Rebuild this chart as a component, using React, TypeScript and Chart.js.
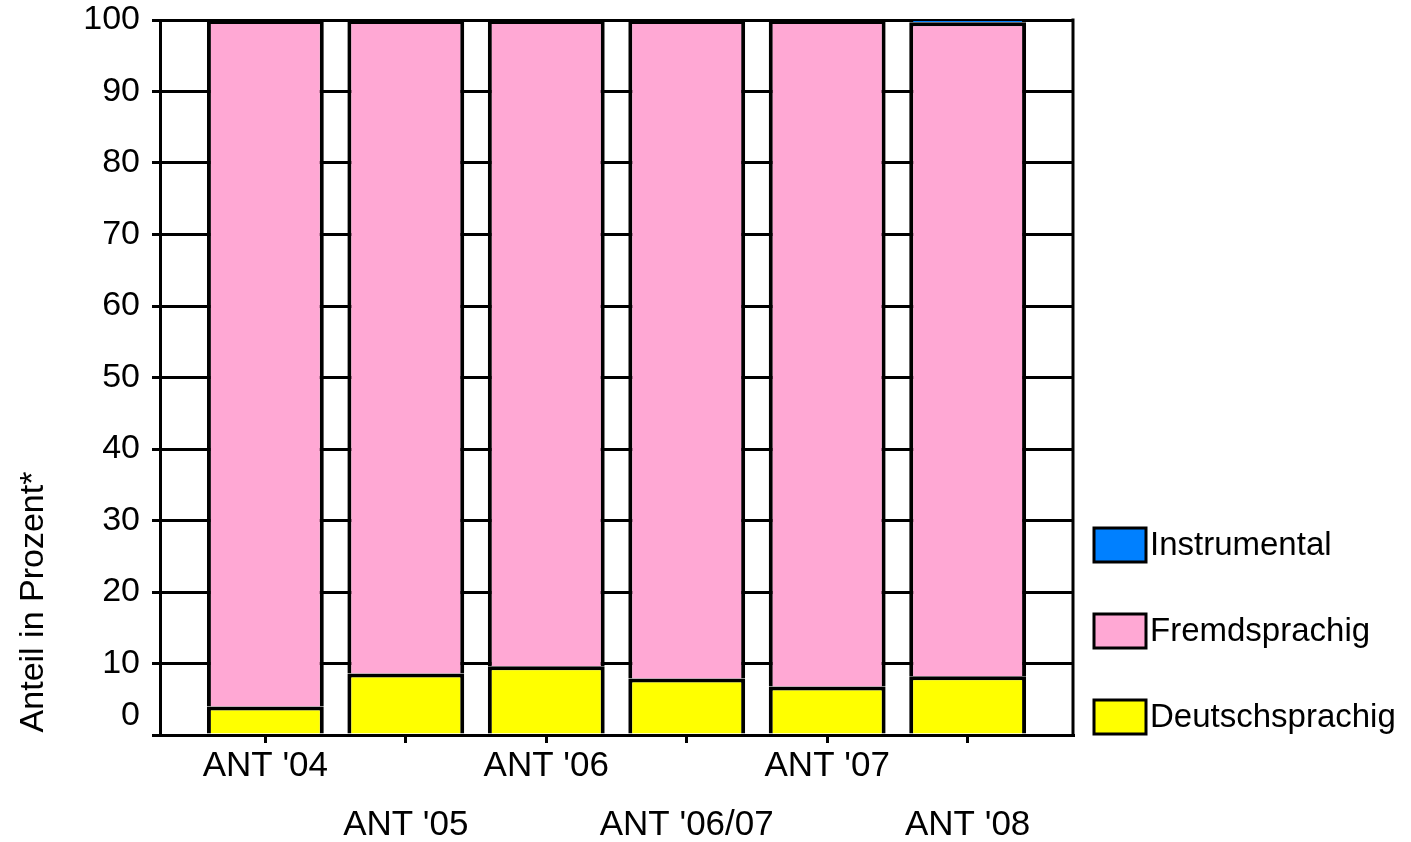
import React, { useEffect, useRef } from 'react';
import { Chart, registerables } from 'chart.js';

Chart.register(...registerables);

const categories = ["ANT '04", "ANT '05", "ANT '06", "ANT '06/07", "ANT '07", "ANT '08"];
const deutschsprachig = [4.0, 8.6, 9.6, 7.9, 6.8, 8.2];
const fremdsprachig = [96.0, 91.4, 90.4, 92.1, 93.2, 91.5];
const instrumental = [0, 0, 0, 0, 0, 0.3];
const yTickValues = [0, 10, 20, 30, 40, 50, 60, 70, 80, 90, 100];
const seriesNames = ['Deutschsprachig', 'Fremdsprachig', 'Instrumental'];
const seriesColors = ['#FFFF00', '#FFA8D4', '#0080FF'];
const yTitle = 'Anteil in Prozent*';

const FONT = '"Liberation Sans", Arial, Helvetica, sans-serif';

const decorPlugin = {
  id: 'decor',
  afterDatasetsDraw(chart: any) {
    const { ctx, chartArea } = chart;
    ctx.save();
    ctx.strokeStyle = '#000';
    ctx.lineWidth = 3;
    ctx.beginPath();
    ctx.moveTo(chartArea.right, chartArea.top - 1.5);
    ctx.lineTo(chartArea.right, chartArea.bottom + 1.5);
    ctx.stroke();
    ctx.restore();
  },
  afterDraw(chart: any) {
    const { ctx, chartArea } = chart;
    // y axis title
    ctx.save();
    ctx.fillStyle = '#000';
    ctx.font = `34px ${FONT}`;
    ctx.translate(chartArea.left - 117, chartArea.bottom - 133);
    ctx.rotate(-Math.PI / 2);
    ctx.textAlign = 'center';
    ctx.textBaseline = 'alphabetic';
    ctx.fillText(yTitle, 0, 0);
    ctx.restore();

    // legend (reversed order: top = last dataset)
    const datasets = chart.data.datasets;
    const boxLeft = chartArea.right + 21;
    const boxW = 52;
    const boxH = 34;
    const step = 86;
    ctx.save();
    ctx.font = `33px ${FONT}`;
    ctx.textBaseline = 'middle';
    ctx.textAlign = 'left';
    datasets.forEach((ds: any, i: number) => {
      const cy = chartArea.bottom - 18 - i * step;
      ctx.fillStyle = ds.backgroundColor;
      ctx.fillRect(boxLeft, cy - boxH / 2, boxW, boxH);
      ctx.strokeStyle = '#000';
      ctx.lineWidth = 3;
      ctx.strokeRect(boxLeft, cy - boxH / 2, boxW, boxH);
      ctx.fillStyle = '#000';
      ctx.fillText(ds.label, boxLeft + boxW + 4, cy + 1);
    });
    ctx.restore();
  },
};

export default function App() {
  const canvasRef = useRef<HTMLCanvasElement | null>(null);

  useEffect(() => {
    document.body.style.margin = '0';
    const canvas = canvasRef.current;
    if (!canvas) return;
    const series = [deutschsprachig, fremdsprachig, instrumental];
    const chart = new Chart(canvas, {
      type: 'bar',
      data: {
        datasets: series.map((vals, s) => ({
          label: seriesNames[s],
          data: vals.map((v, i) => ({ x: i, y: v })),
          backgroundColor: seriesColors[s],
          borderColor: '#000000',
          borderWidth: 4,
          borderSkipped: 'start',
          inflateAmount: 0,
          categoryPercentage: 1,
          barPercentage: 0.832,
        })),
      },
      options: {
        animation: false,
        responsive: true,
        maintainAspectRatio: false,
        layout: { padding: { left: 8, top: 20, right: 338, bottom: 0 } },
        plugins: {
          legend: { display: false },
          tooltip: { enabled: false },
        },
        scales: {
          x: {
            type: 'linear',
            stacked: true,
            offset: false,
            min: -0.75,
            max: 5.75,
            afterBuildTicks: (scale: any) => {
              scale.ticks = categories.map((_, i) => ({ value: i }));
            },
            afterFit: (scale: any) => {
              scale.height = 107;
              scale.paddingLeft = 0;
              scale.paddingRight = 0;
              scale.paddingTop = 0;
              scale.paddingBottom = 0;
            },
            grid: {
              display: true,
              offset: false,
              drawOnChartArea: false,
              drawTicks: true,
              tickLength: 8,
              color: '#000',
              lineWidth: 3,
            },
            border: { display: true, color: '#000', width: 3 },
            ticks: {
              autoSkip: false,
              maxRotation: 0,
              minRotation: 0,
              padding: -6,
              color: '#000',
              font: { family: FONT, size: 35, lineHeight: '59px' },
              callback: (value: any) => {
                const i = Math.round(Number(value));
                const label = categories[i] ?? '';
                return i % 2 === 1 ? ['', label] : [label];
              },
            },
          },
          y: {
            stacked: true,
            min: 0,
            max: 100,
            afterBuildTicks: (scale: any) => {
              scale.ticks = yTickValues.map((v) => ({ value: v }));
            },
            afterFit: (scale: any) => {
              scale.width = 152;
              scale.paddingTop = 0;
              scale.paddingBottom = 0;
              scale.paddingLeft = 0;
              scale.paddingRight = 0;
            },
            grid: {
              display: true,
              drawOnChartArea: true,
              drawTicks: true,
              tickLength: 8,
              color: '#000',
              lineWidth: 3,
            },
            border: { display: true, color: '#000', width: 3 },
            ticks: {
              autoSkip: false,
              padding: 12,
              color: '#000',
              font: { family: FONT, size: 34, lineHeight: 1.15 },
              callback: (value: any) => (Number(value) === 0 ? ['0', ''] : String(value)),
            },
          },
        },
      },
      plugins: [decorPlugin],
    } as any);
    return () => chart.destroy();
  }, []);

  return (
    <div style={{ position: 'relative', width: 1411, height: 842 }}>
      <canvas ref={canvasRef} />
    </div>
  );
}
